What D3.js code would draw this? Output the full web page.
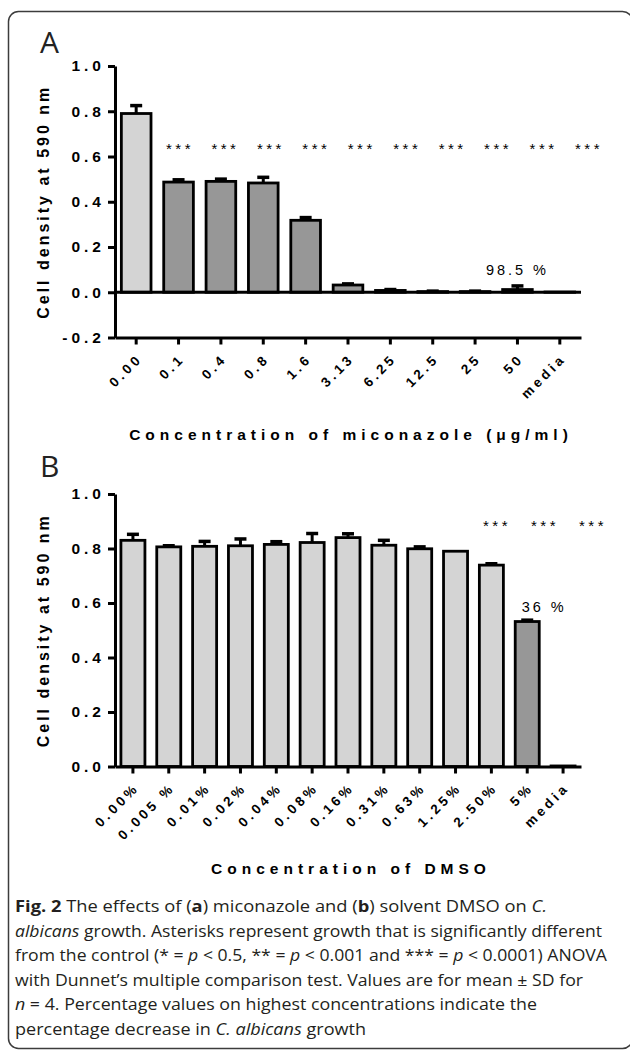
<!DOCTYPE html>
<html>
<head>
<meta charset="utf-8">
<script src="https://cdn.jsdelivr.net/npm/d3@7"></script>
<style>
  body { margin: 0; background: #fff; }
  svg { display: block; }
  .bold { font-family: "Liberation Sans", Arial, sans-serif; font-weight: bold; fill: #000; }
  .plain { font-family: "Liberation Sans", Arial, sans-serif; fill: #000; }
  .caption { font-family: "Open Sans", "Noto Sans", sans-serif; font-size: 15.5px; fill: #231f20; }
</style>
</head>
<body>
<svg id="fig" width="630" height="1052"></svg>
<script>
// Panel A - miconazole (ug/ml)
var catsA = ['0.00', '0.1', '0.4', '0.8', '1.6', '3.13', '6.25', '12.5', '25', '50', 'media'];
var meanA = [0.79, 0.487, 0.49, 0.483, 0.318, 0.032, 0.008, 0.003, 0.003, 0.012, 0.001];
var sdA   = [0.035, 0.01, 0.01, 0.025, 0.012, 0.005, 0.004, 0.002, 0.002, 0.016, 0];
var darkA = [0, 1, 1, 1, 1, 1, 1, 1, 1, 1, 1];
var starsA = ['', '***', '***', '***', '***', '***', '***', '***', '***', '***', '***'];
var yTicksA = [-0.2, 0, 0.2, 0.4, 0.6, 0.8, 1.0];
var yLabelsA = ['-0.2', '0.0', '0.2', '0.4', '0.6', '0.8', '1.0'];
var noteA = ['50', '98.5 %'];

// Panel B - DMSO
var catsB = ['0.00%', '0.005 %', '0.01%', '0.02%', '0.04%', '0.08%', '0.16%', '0.31%', '0.63%', '1.25%', '2.50%', '5%', 'media'];
var meanB = [0.83, 0.806, 0.808, 0.81, 0.815, 0.822, 0.84, 0.812, 0.799, 0.79, 0.739, 0.532, 0.002];
var sdB   = [0.022, 0.004, 0.018, 0.025, 0.01, 0.033, 0.014, 0.018, 0.007, 0, 0.005, 0.005, 0];
var darkB = [0, 0, 0, 0, 0, 0, 0, 0, 0, 0, 0, 1, 0];
var starsB = ['', '', '', '', '', '', '', '', '', '', '***', '***', '***'];
var yTicksB = [0, 0.2, 0.4, 0.6, 0.8, 1.0];
var yLabelsB = ['0.0', '0.2', '0.4', '0.6', '0.8', '1.0'];
var noteB = ['5%', '36 %'];

var captionLines = [
  [['Fig. 2', 'b'], [' The effects of ('], ['a', 'b'], [') miconazole and ('], ['b', 'b'], [') solvent DMSO on '], ['C.', 'i']],
  [['albicans', 'i'], [' growth. Asterisks represent growth that is significantly different']],
  [['from the control (* = '], ['p', 'i'], [' < 0.5, ** = '], ['p', 'i'], [' < 0.001 and *** = '], ['p', 'i'], [' < 0.0001) ANOVA']],
  [['with Dunnet\u2019s multiple comparison test. Values are for mean \u00b1 SD for']],
  [['n', 'i'], [' = 4. Percentage values on highest concentrations indicate the']],
  [['percentage decrease in '], ['C. albicans', 'i'], [' growth']]
];
var captionEnds = [547, 602, 607, 583, 537, 366];

var svg = d3.select('#fig');
var fill = d3.scaleOrdinal().domain([0, 1]).range(['#d4d4d4', '#979797']);

// rounded frame
svg.append('rect')
  .attr('x', 8.5).attr('y', 11.5)
  .attr('width', 624).attr('height', 1037)
  .attr('rx', 10)
  .attr('fill', 'none').attr('stroke', '#3c3c3c').attr('stroke-width', 1.5);

function drawPanel(o) {
  var g = svg.append('g');
  var x = d3.scaleBand().domain(o.cats).range([115, 581])
    .paddingInner(o.pad).paddingOuter(o.pad / 2);
  var y = d3.scaleLinear().domain(o.yDomain).range(o.yRange);
  var base = y(o.yDomain[0]);

  g.append('text').attr('class', 'plain')
    .attr('x', 40).attr('y', o.letterY)
    .style('font-family', '"Open Sans", sans-serif').style('font-size', '30px').style('fill', '#222')
    .text(o.letter);

  // bars
  var rows = o.cats.map(function (c, i) {
    return { c: c, m: o.mean[i], sd: o.sd[i], dark: o.dark[i], star: o.stars[i] };
  });
  g.selectAll('rect.bar').data(rows).enter().append('rect')
    .attr('class', 'bar')
    .attr('x', function (d) { return x(d.c); })
    .attr('width', x.bandwidth())
    .attr('y', function (d) { return y(d.m); })
    .attr('height', function (d) { return y(0) - y(d.m); })
    .attr('fill', function (d) { return fill(d.dark); })
    .attr('stroke', '#000').attr('stroke-width', 2.8);

  // error bars (upper only)
  var err = g.selectAll('g.err').data(rows.filter(function (d) { return d.sd > 0; })).enter()
    .append('g').attr('class', 'err')
    .attr('transform', function (d) { return 'translate(' + (x(d.c) + x.bandwidth() / 2) + ',0)'; });
  err.append('line')
    .attr('y1', function (d) { return y(d.m); })
    .attr('y2', function (d) { return y(d.m + d.sd); })
    .attr('stroke', '#000').attr('stroke-width', 3);
  err.append('line')
    .attr('x1', -6).attr('x2', 6)
    .attr('y1', function (d) { return y(d.m + d.sd); })
    .attr('y2', function (d) { return y(d.m + d.sd); })
    .attr('stroke', '#000').attr('stroke-width', 3.5);

  // zero line when the axis goes below 0
  if (o.yDomain[0] < 0) {
    g.append('line')
      .attr('x1', 115).attr('x2', 581)
      .attr('y1', y(0)).attr('y2', y(0))
      .attr('stroke', '#000').attr('stroke-width', 3);
  }

  // y axis
  var ya = g.append('g').attr('transform', 'translate(115,0)')
    .call(d3.axisLeft(y).tickValues(o.yTicks)
      .tickFormat(function (d, i) { return o.yLabels[i]; })
      .tickSize(7).tickSizeOuter(0).tickPadding(3));
  ya.selectAll('path, line').attr('stroke', '#000').attr('stroke-width', 3);
  ya.selectAll('text').attr('class', 'bold')
    .style('font-size', '15.5px').style('letter-spacing', '4px');

  // x axis
  var xa = g.append('g').attr('transform', 'translate(0,' + base + ')')
    .call(d3.axisBottom(x).tickSize(7).tickSizeOuter(0));
  xa.selectAll('path, line').attr('stroke', '#000').attr('stroke-width', 3);
  xa.selectAll('text').attr('class', 'bold')
    .attr('y', 0).attr('dy', 0)
    .attr('transform', 'translate(7,22) rotate(-45)')
    .style('text-anchor', 'end')
    .style('font-size', '13.5px').style('letter-spacing', '3.5px');

  // significance stars
  var starred = rows.filter(function (d) { return d.star; });
  var sx = d3.scalePoint().domain(starred.map(function (d) { return d.c; })).range(o.starSpan);
  g.selectAll('text.star').data(starred).enter().append('text')
    .attr('class', 'plain star')
    .attr('x', function (d) { return sx(d.c); })
    .attr('y', y(o.starLevel))
    .attr('text-anchor', 'middle')
    .style('font-size', '15px').style('letter-spacing', '3.5px')
    .text(function (d) { return d.star; });

  // percentage note
  g.append('text').attr('class', 'plain')
    .attr('x', x(o.note[0]) + x.bandwidth() / 2 + o.noteDx)
    .attr('y', y(o.noteLevel))
    .attr('text-anchor', 'middle')
    .style('font-size', '14.5px').style('letter-spacing', '3px')
    .text(o.note[1]);

  // axis titles
  g.append('text').attr('class', 'bold')
    .attr('transform', 'translate(49,' + (y(o.yDomain[1]) + base) / 2 + ') rotate(-90)')
    .attr('text-anchor', 'middle')
    .style('font-size', '16px').style('letter-spacing', '3px')
    .text('Cell density at 590 nm');
  g.append('text').attr('class', 'bold')
    .attr('x', 351).attr('y', o.titleY)
    .attr('text-anchor', 'middle')
    .style('font-size', '15.5px').style('letter-spacing', '5px')
    .text(o.title);
}

drawPanel({
  letter: 'A', letterY: 53,
  cats: catsA, mean: meanA, sd: sdA, dark: darkA, stars: starsA,
  yTicks: yTicksA, yLabels: yLabelsA,
  yDomain: [-0.2, 1.0], yRange: [337.5, 66], pad: 0.3,
  starSpan: [180, 589], starLevel: 0.61,
  note: noteA, noteLevel: 0.076, noteDx: 0,
  titleY: 440, title: 'Concentration of miconazole (\u03bcg/ml)'
});

drawPanel({
  letter: 'B', letterY: 477,
  cats: catsB, mean: meanB, sd: sdB, dark: darkB, stars: starsB,
  yTicks: yTicksB, yLabels: yLabelsB,
  yDomain: [0, 1.0], yRange: [766.5, 494], pad: 0.33,
  starSpan: [497, 593], starLevel: 0.866,
  note: noteB, noteLevel: 0.567, noteDx: 17,
  titleY: 874, title: 'Concentration of DMSO'
});

// caption
var cap = svg.append('g');
captionLines.forEach(function (line, i) {
  var t = cap.append('text').attr('class', 'caption')
    .attr('x', 15).attr('y', 912 + i * 24.5)
    .attr('textLength', captionEnds[i] - 15)
    .attr('lengthAdjust', 'spacingAndGlyphs');
  line.forEach(function (part) {
    var s = t.append('tspan').text(part[0]);
    if (part[1] === 'b') s.style('font-weight', 'bold');
    if (part[1] === 'i') s.style('font-style', 'italic');
  });
});
</script>
</body>
</html>
